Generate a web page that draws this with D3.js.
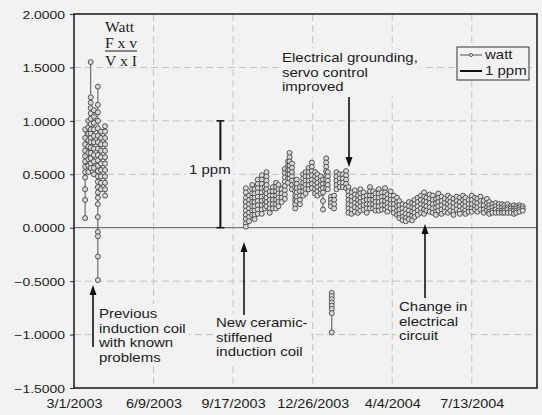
<!DOCTYPE html>
<html>
<head>
<meta charset="utf-8">
<title>Watt balance results 2003-2004</title>
<script src="https://d3js.org/d3.v7.min.js"></script>
<style>
  body { margin: 0; background: #f2f2f2; }
  svg { display: block; font-family: "Liberation Sans", Arial, sans-serif; }
  .grid line { stroke: #c4c4c4; stroke-dasharray: 7,4; }
  .note { font-size: 12.5px; fill: #1c1c1c; }
  .tick text { font-size: 11.6px; fill: #1c1c1c; }
</style>
</head>
<body>
<svg width="542" height="415"></svg>
<script>
// day offsets from 3/1/2003, readings per day
var startDay = Date.UTC(2003, 2, 1);
var wattDay = [14, 18, 21, 25, 30, 34, 39,
  216, 220, 224, 227, 231, 236, 240, 242, 246, 250, 254, 257, 261, 265, 269, 271, 274, 278,
  280, 284, 288, 291, 295, 299, 303, 306, 310, 313, 317, 319, 323, 324, 327, 330, 334, 338, 342,
  345, 349, 353, 357, 360, 364, 368, 372, 376, 379, 383, 387, 391, 394, 398, 402, 406, 409, 413,
  417, 421, 425, 428, 432, 436, 440, 443, 447, 451, 455, 458, 462, 466, 470, 473, 477, 481, 485,
  489, 492, 496, 500, 504, 507, 511, 515, 519, 522, 526, 530, 534, 538, 541, 545, 549, 553, 556,
  560, 564];
var wattReadings = [
  [0.92, 0.84, 0.78, 0.72, 0.67, 0.62, 0.57, 0.52, 0.47, 0.36, 0.26, 0.09],
  [1.0, 0.94, 0.88, 0.82, 0.76, 0.7, 0.64, 0.58, 0.52],
  [1.55, 1.22, 1.17, 1.12, 1.07, 1.02, 0.97, 0.92, 0.88, 0.84, 0.8, 0.75, 0.7, 0.65, 0.6, 0.56],
  [1.1, 1.04, 0.98, 0.92, 0.86, 0.8, 0.74, 0.68, 0.62, 0.56, 0.5],
  [1.32, 1.15, 1.08, 1.0, 0.93, 0.86, 0.8, 0.74, 0.68, 0.63, 0.58, 0.53, 0.48, 0.43, 0.38, 0.33, 0.28, 0.22, 0.1, -0.04, -0.08, -0.27, -0.49],
  [0.9, 0.84, 0.78, 0.72, 0.66, 0.6, 0.54, 0.48, 0.42, 0.36],
  [0.95, 0.9, 0.84, 0.78, 0.72, 0.66, 0.6, 0.54, 0.48, 0.42, 0.36, 0.3],
  [0.37, 0.33, 0.28, 0.24, 0.2, 0.16, 0.12, 0.08, 0.04, 0.01],
  [0.3, 0.26, 0.22, 0.18, 0.14, 0.1, 0.06],
  [0.4, 0.36, 0.32, 0.28, 0.24, 0.2, 0.16, 0.12],
  [0.36, 0.32, 0.28, 0.24, 0.2, 0.16, 0.12, 0.08],
  [0.45, 0.41, 0.37, 0.33, 0.29, 0.25, 0.21, 0.17, 0.13],
  [0.49, 0.45, 0.41, 0.37, 0.33, 0.29, 0.25, 0.21, 0.17, 0.13],
  [0.38, 0.34, 0.3, 0.26, 0.22, 0.18],
  [0.52, 0.48, 0.44, 0.4, 0.36, 0.32, 0.28, 0.24, 0.2],
  [0.34, 0.3, 0.26, 0.22, 0.18, 0.14],
  [0.38, 0.34, 0.3, 0.26, 0.22, 0.18],
  [0.42, 0.38, 0.34, 0.3, 0.26, 0.22, 0.18],
  [0.4, 0.36, 0.32, 0.28, 0.24, 0.2],
  [0.36, 0.32, 0.28, 0.24],
  [0.55, 0.51, 0.47, 0.43, 0.39, 0.35, 0.31, 0.27],
  [0.62, 0.58, 0.54, 0.5, 0.46, 0.42],
  [0.7, 0.66, 0.62, 0.58, 0.54, 0.5, 0.46],
  [0.6, 0.56, 0.52, 0.48, 0.44, 0.4, 0.36],
  [0.42, 0.38, 0.34, 0.3, 0.26, 0.22, 0.18],
  [0.45, 0.41, 0.37, 0.33, 0.29, 0.25],
  [0.38, 0.34, 0.3, 0.26, 0.22],
  [0.5, 0.46, 0.42, 0.38, 0.34, 0.3],
  [0.52, 0.48, 0.44, 0.4, 0.36, 0.32],
  [0.56, 0.52, 0.48, 0.44, 0.4, 0.36],
  [0.61, 0.57, 0.53, 0.49, 0.45, 0.41, 0.37],
  [0.52, 0.48, 0.44, 0.4, 0.36, 0.32],
  [0.5, 0.46, 0.42, 0.38, 0.34, 0.3],
  [0.48, 0.44, 0.4, 0.36, 0.32],
  [0.45, 0.41, 0.37, 0.33, 0.25, 0.17],
  [0.65, 0.61, 0.57, 0.53, 0.49, 0.45, 0.41, 0.37],
  [0.52, 0.48, 0.44, 0.4, 0.36],
  [0.29, 0.26, 0.23, 0.2],
  [-0.61, -0.64, -0.67, -0.7, -0.73, -0.76, -0.8, -0.98],
  [0.3, 0.26, 0.22, 0.18],
  [0.52, 0.48, 0.44, 0.4, 0.36],
  [0.5, 0.46, 0.42, 0.38],
  [0.5, 0.46, 0.42, 0.38],
  [0.53, 0.49, 0.45, 0.41, 0.37],
  [0.38, 0.34, 0.3, 0.26, 0.22, 0.18, 0.14],
  [0.33, 0.29, 0.25, 0.21, 0.17, 0.13],
  [0.35, 0.31, 0.27, 0.23, 0.19, 0.15],
  [0.3, 0.26, 0.22, 0.18, 0.14],
  [0.36, 0.32, 0.28, 0.24, 0.2, 0.16],
  [0.33, 0.29, 0.25, 0.21, 0.17],
  [0.3, 0.26, 0.22, 0.18, 0.14],
  [0.38, 0.34, 0.3, 0.26, 0.22, 0.18],
  [0.34, 0.3, 0.26, 0.22, 0.18],
  [0.32, 0.28, 0.24, 0.2, 0.16],
  [0.36, 0.32, 0.28, 0.24, 0.2, 0.16],
  [0.33, 0.29, 0.25, 0.21, 0.17],
  [0.37, 0.33, 0.29, 0.25, 0.21, 0.17],
  [0.31, 0.27, 0.23, 0.19, 0.15],
  [0.34, 0.3, 0.26, 0.22, 0.18],
  [0.3, 0.26, 0.22, 0.18, 0.14],
  [0.28, 0.24, 0.2, 0.16, 0.12],
  [0.25, 0.21, 0.17, 0.13, 0.09],
  [0.22, 0.18, 0.14, 0.1, 0.07],
  [0.21, 0.17, 0.13, 0.09, 0.06],
  [0.24, 0.2, 0.16, 0.12, 0.08],
  [0.23, 0.19, 0.15, 0.11, 0.07],
  [0.26, 0.22, 0.18, 0.14, 0.1],
  [0.28, 0.24, 0.2, 0.16, 0.12],
  [0.3, 0.26, 0.22, 0.18, 0.14],
  [0.33, 0.29, 0.25, 0.21, 0.17, 0.13],
  [0.28, 0.24, 0.2, 0.16],
  [0.31, 0.27, 0.23, 0.19, 0.15],
  [0.3, 0.26, 0.22, 0.18, 0.14],
  [0.27, 0.23, 0.19, 0.15, 0.12],
  [0.32, 0.28, 0.24, 0.2, 0.16],
  [0.29, 0.25, 0.21, 0.17, 0.13],
  [0.27, 0.23, 0.19, 0.15],
  [0.3, 0.26, 0.22, 0.18, 0.14],
  [0.28, 0.24, 0.2, 0.16],
  [0.27, 0.23, 0.19, 0.15, 0.12],
  [0.29, 0.25, 0.21, 0.17],
  [0.28, 0.24, 0.2, 0.16, 0.13],
  [0.3, 0.26, 0.22, 0.18],
  [0.28, 0.24, 0.2, 0.16, 0.13],
  [0.26, 0.22, 0.18, 0.15],
  [0.3, 0.26, 0.22, 0.18, 0.15],
  [0.28, 0.24, 0.2, 0.17],
  [0.27, 0.23, 0.19, 0.15],
  [0.29, 0.25, 0.21, 0.17],
  [0.25, 0.21, 0.17, 0.14],
  [0.27, 0.23, 0.19, 0.16],
  [0.24, 0.21, 0.18, 0.15, 0.13],
  [0.22, 0.19, 0.16, 0.14],
  [0.23, 0.2, 0.17, 0.14],
  [0.22, 0.19, 0.16, 0.14],
  [0.22, 0.19, 0.16, 0.14],
  [0.21, 0.18, 0.16, 0.14],
  [0.22, 0.19, 0.17, 0.14],
  [0.2, 0.18, 0.16, 0.14],
  [0.21, 0.18, 0.16, 0.13],
  [0.2, 0.18, 0.16, 0.14],
  [0.21, 0.19, 0.17, 0.15],
  [0.2, 0.18, 0.16]
];
// the "1 ppm" reference bar
var ppmDay = 184;
var ppmRange = [0, 1];

var tickDays = [0, 100, 200, 300, 400, 500];
var yTicks = [-1.5, -1.0, -0.5, 0, 0.5, 1.0, 1.5, 2.0];

var svg = d3.select("svg");
var day = 864e5;
var x = d3.scaleUtc()
    .domain([new Date(startDay), new Date(startDay + 582 * day)])
    .range([74, 537]);
var y = d3.scaleLinear().domain([-1.5, 2]).range([388, 14]);
var sx = 1.2; // scanned text is stretched sideways

function dateOf(d) { return new Date(startDay + d * day); }

// gridlines
var grid = svg.append("g").attr("class", "grid");
grid.selectAll(".h").data(yTicks.filter(function(v) { return v != 0 && v > -1.5 && v < 2; }))
  .enter().append("line").attr("class", "h")
    .attr("x1", 74).attr("x2", 537)
    .attr("y1", function(v) { return y(v); }).attr("y2", function(v) { return y(v); });
grid.selectAll(".v").data(tickDays.slice(1))
  .enter().append("line").attr("class", "v")
    .attr("y1", 14).attr("y2", 388)
    .attr("x1", function(d) { return x(dateOf(d)); }).attr("x2", function(d) { return x(dateOf(d)); });
svg.append("line").attr("x1", 74).attr("x2", 537).attr("y1", y(0)).attr("y2", y(0))
   .attr("stroke", "#7a7a7a").attr("stroke-width", 1.2);

// axes
var yAxis = svg.append("g").attr("transform", "translate(74,0)")
  .call(d3.axisLeft(y).tickValues(yTicks).tickFormat(d3.format(".4f")).tickSize(4).tickPadding(3.5));
yAxis.select(".domain").remove();
yAxis.selectAll(".tick line").attr("stroke", "#333");
yAxis.selectAll(".tick text").attr("transform", "scale(" + sx + ",1)").attr("dy", "0.36em");

var xAxis = svg.append("g").attr("transform", "translate(0,388)")
  .call(d3.axisBottom(x).tickValues(tickDays.map(dateOf))
        .tickFormat(d3.utcFormat("%-m/%-d/%Y")).tickSize(0).tickPadding(11));
xAxis.select(".domain").remove();
xAxis.selectAll(".tick text").attr("transform", "scale(" + sx + ",1)").style("font-size", "12px");

// watt series: each day's readings as a chain
var groups = wattDay.map(function(d, i) {
  return wattReadings[i].map(function(v) { return [d, v]; });
});
var line = d3.line().x(function(p) { return x(dateOf(p[0])); }).y(function(p) { return y(p[1]); });
var series = svg.append("g");
series.selectAll("path").data(groups).enter().append("path")
  .attr("d", line).attr("fill", "none").attr("stroke", "#555").attr("stroke-width", 1);
series.selectAll("circle").data(d3.merge(groups)).enter().append("circle")
  .attr("cx", function(p) { return x(dateOf(p[0])); })
  .attr("cy", function(p) { return y(p[1]); })
  .attr("r", 2.5)
  .attr("fill", "#d8d8d8").attr("stroke", "#454545").attr("stroke-width", 0.9);

// 1 ppm bar
var px = x(dateOf(ppmDay));
svg.append("line").attr("x1", px).attr("x2", px).attr("y1", y(ppmRange[0])).attr("y2", y(ppmRange[1]))
  .attr("stroke", "#111").attr("stroke-width", 2);
ppmRange.forEach(function(v) {
  svg.append("line").attr("x1", px - 4).attr("x2", px + 4).attr("y1", y(v)).attr("y2", y(v))
    .attr("stroke", "#111").attr("stroke-width", 1.5);
});

// plot frame
svg.append("rect").attr("x", 74).attr("y", 14).attr("width", 463).attr("height", 374)
  .attr("fill", "none").attr("stroke", "#222").attr("stroke-width", 1.6);

// notes with background boxes
function note(x0, y0, lines, pad) {
  var g = svg.append("g");
  lines.forEach(function(t, i) {
    g.append("text").attr("class", "note")
      .attr("transform", "translate(" + x0 + "," + (y0 + i * 14.5) + ") scale(" + sx + ",1)")
      .text(t);
  });
  var b = g.node().getBBox();
  g.insert("rect", "text").attr("x", b.x - pad).attr("y", b.y - pad)
    .attr("width", b.width + 2 * pad).attr("height", b.height + 2 * pad).attr("fill", "#f2f2f2");
  return g;
}
note(282, 62, ["Electrical grounding,", "servo control", "improved"], 3);
note(99, 318, ["Previous", "induction coil", "with known", "problems"], 3);
note(216, 327, ["New ceramic-", "stiffened", "induction coil"], 3);
note(399, 311, ["Change in", "electrical", "circuit"], 3);
note(189, 174, ["1 ppm"], 3);

// formula
var f = svg.append("g").style("font-family", "'Liberation Serif', 'Times New Roman', serif")
  .style("font-size", "14.5px").attr("fill", "#1c1c1c");
[["Watt", 32], ["F x v", 48], ["V x I", 66]].forEach(function(t) {
  f.append("text").attr("transform", "translate(105," + t[1] + ") scale(1.08,1)").text(t[0]);
});
f.append("line").attr("x1", 105).attr("x2", 137).attr("y1", 51).attr("y2", 51)
  .attr("stroke", "#1c1c1c").attr("stroke-width", 1);

// arrows
function arrow(ax, yFrom, yTip) {
  var dir = yTip < yFrom ? 1 : -1;
  svg.append("line").attr("x1", ax).attr("x2", ax).attr("y1", yFrom).attr("y2", yTip + dir * 8)
    .attr("stroke", "#111").attr("stroke-width", 1.6);
  svg.append("path")
    .attr("d", "M" + ax + "," + yTip + "L" + (ax - 3.5) + "," + (yTip + dir * 10) +
               "L" + (ax + 3.5) + "," + (yTip + dir * 10) + "Z")
    .attr("fill", "#111");
}
arrow(93, 347, 285);
arrow(244, 315, 242);
arrow(349, 97, 167);
arrow(425, 298, 224);

// legend
var lg = svg.append("g");
lg.append("rect").attr("x", 457).attr("y", 47).attr("width", 72).attr("height", 33)
  .attr("fill", "#f2f2f2").attr("stroke", "#333").attr("stroke-width", 1);
lg.append("line").attr("x1", 460).attr("x2", 482).attr("y1", 55).attr("y2", 55)
  .attr("stroke", "#555").attr("stroke-width", 1);
lg.append("circle").attr("cx", 471).attr("cy", 55).attr("r", 1.6)
  .attr("fill", "#d8d8d8").attr("stroke", "#454545").attr("stroke-width", 0.8);
lg.append("line").attr("x1", 460).attr("x2", 482).attr("y1", 71).attr("y2", 71)
  .attr("stroke", "#111").attr("stroke-width", 2);
lg.append("text").attr("class", "note").attr("transform", "translate(485,59) scale(" + sx + ",1)").text("watt");
lg.append("text").attr("class", "note").attr("transform", "translate(485,75) scale(" + sx + ",1)").text("1 ppm");
</script>
</body>
</html>
